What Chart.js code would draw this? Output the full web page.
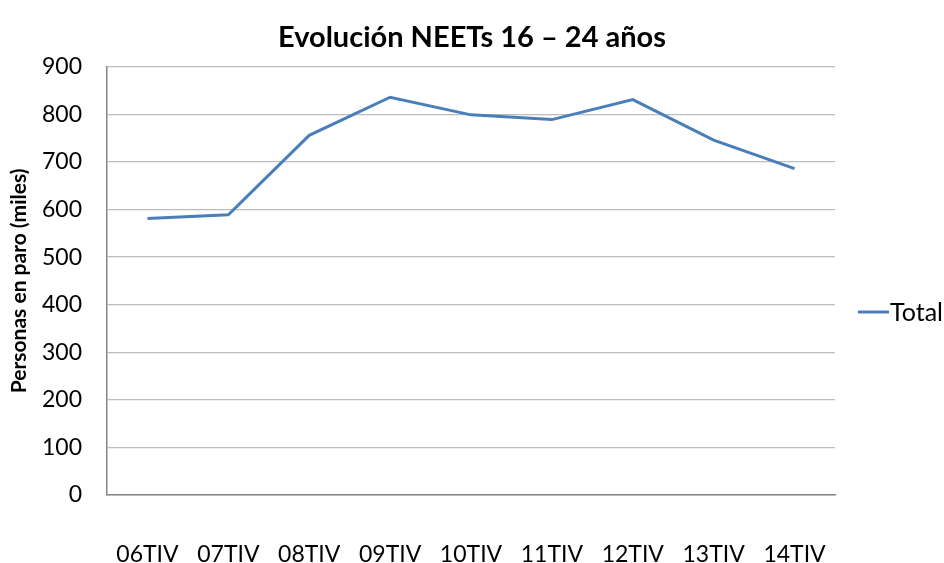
<!DOCTYPE html>
<html><head><meta charset="utf-8">
<script src="https://cdn.jsdelivr.net/npm/chart.js@4/dist/chart.umd.min.js"></script>
<style>html,body{margin:0;padding:0;background:#fff}#wrap{width:944px;height:563px}</style>
</head><body><div id="wrap"><canvas id="c" width="944" height="563"></canvas></div>
<script>
const categories = ["06TIV","07TIV","08TIV","09TIV","10TIV","11TIV","12TIV","13TIV","14TIV"];
const totalValues = [581, 589, 756, 836, 799, 789, 831, 746, 686];
const seriesLabel = "Total";
const titleText = "Evolución NEETs 16 – 24 años";
const yTitle = "Personas en paro (miles)";
const FONT = "Lato, 'Open Sans', sans-serif";
const TITLE_SIZE = 29;

const overlayPlugin = {
  id: 'overlay',
  afterDraw(chart) {
    const ctx = chart.ctx;
    const ds = chart.data.datasets[0];
    ctx.save();
    // title centred on the canvas
    const tb = chart.titleBlock;
    ctx.fillStyle = '#000';
    ctx.font = "bold " + TITLE_SIZE + "px " + FONT;
    ctx.textAlign = 'center';
    ctx.textBaseline = 'middle';
    ctx.fillText(titleText, chart.width / 2, (tb.top + tb.bottom) / 2);
    // legend
    const y = 312;
    ctx.strokeStyle = ds.borderColor;
    ctx.lineWidth = 3;
    ctx.beginPath(); ctx.moveTo(858, y); ctx.lineTo(889, y); ctx.stroke();
    ctx.font = "25px " + FONT;
    ctx.textAlign = 'left';
    ctx.fillText(ds.label, 890, y + 1);
    ctx.restore();
  }
};

new Chart(document.getElementById('c'), {
  type: 'line',
  data: { labels: categories, datasets: [{ label: seriesLabel, data: totalValues, borderColor: '#4a7ebb', borderWidth: 3, pointRadius: 0, tension: 0, fill: false }] },
  options: {
    responsive: false, animation: false,
    layout: { padding: { left: 7, right: 109, top: 8, bottom: 0 } },
    plugins: {
      legend: { display: false },
      tooltip: { enabled: false },
      title: { display: true, text: titleText, color: 'rgba(0,0,0,0)', font: { family: FONT, size: TITLE_SIZE, weight: 'bold' }, padding: { top: 5, bottom: 19 } }
    },
    scales: {
      x: {
        offset: true,
        grid: { display: false, drawTicks: false },
        border: { display: true, color: '#868686', width: 1.5 },
        ticks: { color: '#000', font: { family: FONT, size: 23 }, padding: 46, maxRotation: 0, autoSkip: false },
        afterFit(scale) { scale.height = 68; }
      },
      y: {
        min: 0, max: 900,
        ticks: { stepSize: 100, color: '#000', font: { family: FONT, size: 23 }, padding: 25 },
        grid: { color: '#bdbdbd', lineWidth: 1.3, drawTicks: false },
        border: { color: '#868686', width: 1.5 },
        title: { display: true, text: yTitle, color: '#000', font: { family: FONT, size: 21, weight: 'bold' }, padding: { top: 0, bottom: 6 } },
        afterFit(scale) { scale.width = 100; }
      }
    }
  },
  plugins: [overlayPlugin]
});
</script></body></html>
